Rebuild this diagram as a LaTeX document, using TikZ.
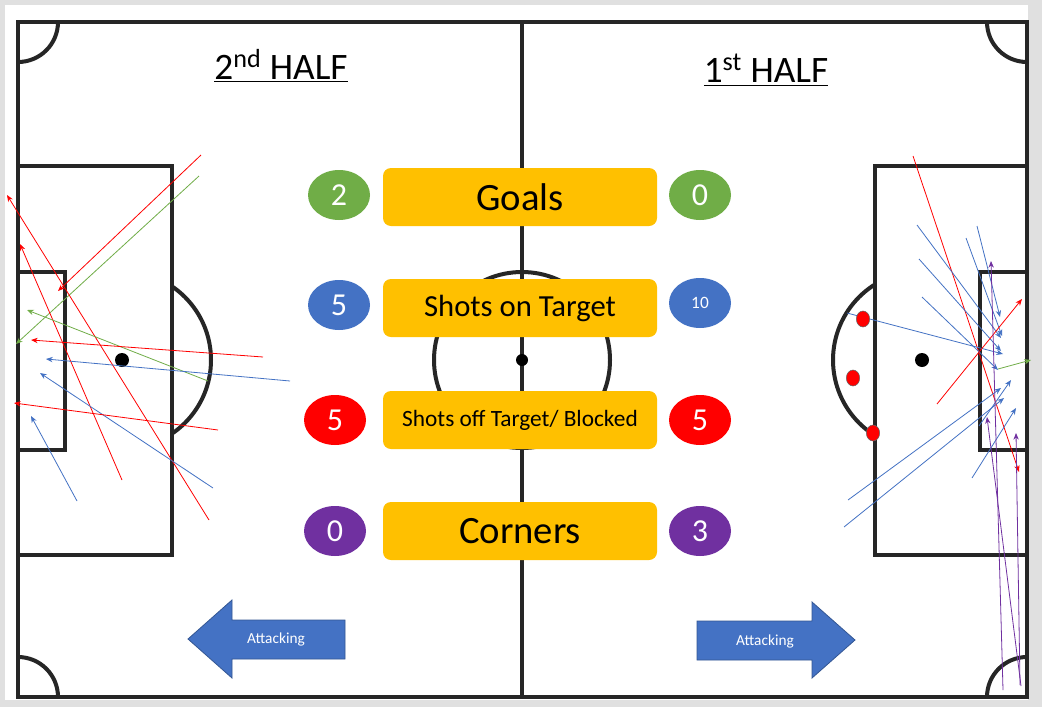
\documentclass[tikz,border=0pt]{standalone}
\usepackage{fontspec}
\setmainfont{Carlito}
\usetikzlibrary{shapes.geometric,arrows.meta}
\definecolor{gor}{HTML}{FFC000}
\definecolor{ggreen}{HTML}{70AD47}
\definecolor{gblue}{HTML}{4472C4}
\definecolor{gred}{HTML}{FF0000}
\definecolor{gpurp}{HTML}{7030A0}
\begin{document}
\begin{tikzpicture}[x=0.75pt,y=-0.75pt,
  pline/.style={line width=3pt,black!85},
  statbox/.style={fill=gor,rounded corners=6pt,minimum width=205.5pt,minimum height=43.5pt,inner sep=0pt},
  statcirc/.style={ellipse,minimum width=46.5pt,minimum height=37.5pt,inner sep=0pt,text=white,font=\fontsize{24}{24}\selectfont},
  shot/.style={line width=0.6pt,-{Stealth[length=5pt,width=4pt]}},
  attshape/.style={fill=gblue,draw=gblue!75!black,line width=0.6pt},
  attlabel/.style={text=white,font=\fontsize{11.5}{11.5}\selectfont},
  dot/.style={ellipse,fill=gred,draw=black!60,minimum width=10pt,minimum height=12pt,inner sep=0pt}]
\useasboundingbox (0,0) rectangle (1042,707);
\fill[black!12] (0,0) rectangle (1042,707);
\fill[white] (5,5) rectangle (1028,700);
% pitch
\draw[pline] (18,22) rectangle (1027,697);
\draw[pline] (522,22) -- (522,697);
\draw[pline] (522,360) circle (88);
\fill (522,360) circle (6);
\draw[pline] (18,166) rectangle (172,555);
\draw[pline] (18,272) rectangle (65,450);
\fill (122,360) circle (7);
\begin{scope}
\clip (172,200) rectangle (260,520);
\draw[pline] (122,360) circle (89);
\end{scope}
\draw[pline] (1027,166) -- (875,166) -- (875,555) -- (1027,555);
\draw[pline] (1027,272) -- (980,272) -- (980,450) -- (1027,450);
\fill (922,360) circle (7);
\begin{scope}
\clip (875,200) rectangle (780,520);
\draw[pline] (922,360) circle (89);
\end{scope}
\begin{scope}
\clip (18,22) rectangle (1027,697);
\draw[pline] (18,22) circle (40);
\draw[pline] (1027,22) circle (40);
\draw[pline] (18,697) circle (40);
\draw[pline] (1027,697) circle (40);
\end{scope}
% titles
\node (t2) at (281,66) {\fontsize{28}{28}\selectfont\underline{2\textsuperscript{nd} HALF}};
\node (t1) at (766,70) {\fontsize{28}{28}\selectfont\underline{1\textsuperscript{st} HALF}};
% stats
\node[statbox] (b1) at (520,197) {\fontsize{29}{29}\selectfont Goals};
\node[statbox] (b2) at (520,308) {\fontsize{23}{23}\selectfont Shots on Target};
\node[statbox] (b3) at (520,420) {\fontsize{17.5}{17.5}\selectfont Shots off Target/ Blocked};
\node[statbox] (b4) at (520,531) {\fontsize{29}{29}\selectfont Corners};
\node[statcirc,fill=ggreen] (l1) at (339,195) {2};
\node[statcirc,fill=ggreen] (r1) at (700,195) {0};
\node[statcirc,fill=gblue] (l2) at (339,305) {5};
\node[statcirc,fill=gblue,font=\fontsize{13}{13}\selectfont] (r2) at (700,303) {10};
\node[statcirc,fill=gred] (l3) at (335,420) {5};
\node[statcirc,fill=gred] (r3) at (700,420) {5};
\node[statcirc,fill=gpurp] (l4) at (335,531) {0};
\node[statcirc,fill=gpurp] (r4) at (700,531) {3};
% attacking arrows
\draw[attshape] (345,620) -- (232,620) -- (232,600) -- (188,639) -- (232,678) -- (232,659) -- (345,659) -- cycle;
\node[attlabel] (al) at (276,639) {Attacking};
\draw[attshape] (697,621) -- (812,621) -- (812,602) -- (855,640) -- (812,678) -- (812,660) -- (697,660) -- cycle;
\node[attlabel] (ar) at (765,641) {Attacking};
% left shots
\coordinate (a1) at (201,155); \coordinate (a2) at (58,291);
\coordinate (b1s) at (199,176); \coordinate (b2s) at (16,344);
\coordinate (c1) at (209,520); \coordinate (c2) at (7,195);
\coordinate (d1) at (122,480); \coordinate (d2) at (20,244);
\coordinate (e1) at (208,381); \coordinate (e2) at (27,310);
\coordinate (f1) at (263,357); \coordinate (f2) at (31,340);
\coordinate (g1) at (290,381); \coordinate (g2) at (46,359);
\coordinate (h1) at (213,488); \coordinate (h2) at (40,373);
\coordinate (i1) at (218,430); \coordinate (i2) at (14,403);
\coordinate (j1) at (77,501); \coordinate (j2) at (31,416);
\draw[shot,gred] (a1) -- (a2);
\draw[shot,ggreen] (b1s) -- (b2s);
\draw[shot,gred] (c1) -- (c2);
\draw[shot,gred] (d1) -- (d2);
\draw[shot,ggreen] (e1) -- (e2);
\draw[shot,gred] (f1) -- (f2);
\draw[shot,gblue] (g1) -- (g2);
\draw[shot,gblue] (h1) -- (h2);
\draw[shot,gred] (i1) -- (i2);
\draw[shot,gblue] (j1) -- (j2);
% right shots
\coordinate (k1) at (913,156); \coordinate (k2) at (1019,472);
\coordinate (m1) at (917,225); \coordinate (m2) at (1001,338);
\coordinate (n1) at (919,259); \coordinate (n2) at (1001,351);
\coordinate (o1) at (922,297); \coordinate (o2) at (998,370);
\coordinate (p1) at (977,226); \coordinate (p2) at (1000,317);
\coordinate (q1) at (966,238); \coordinate (q2) at (1002,336);
\coordinate (s1) at (847,313); \coordinate (s2) at (1003,354);
\coordinate (u1) at (937,404); \coordinate (u2) at (1022,299);
\coordinate (v1) at (998,369); \coordinate (v2) at (1031,360);
\coordinate (w1) at (848,500); \coordinate (w2) at (1001,388);
\coordinate (x1) at (844,527); \coordinate (x2) at (1004,398);
\coordinate (y1) at (979,426); \coordinate (y2) at (1011,380);
\coordinate (z1) at (972,478); \coordinate (z2) at (1016,408);
\coordinate (pa1) at (1003,690); \coordinate (pa2) at (991,261);
\coordinate (pb1) at (1021,686); \coordinate (pb2) at (987,417);
\coordinate (pc1) at (1020,685); \coordinate (pc2) at (1016,433);
\draw[shot,gred] (k1) -- (k2);
\foreach \s/\e in {m1/m2,n1/n2,o1/o2,p1/p2,q1/q2,s1/s2,w1/w2,x1/x2,y1/y2,z1/z2}
  \draw[shot,gblue] (\s) -- (\e);
\draw[shot,gred] (u1) -- (u2);
\draw[shot,ggreen] (v1) -- (v2);
\foreach \s/\e in {pa1/pa2,pb1/pb2,pc1/pc2}
  \draw[shot,gpurp] (\s) -- (\e);
\node[dot] (d1r) at (863,319) {};
\node[dot] (d2r) at (853,378) {};
\node[dot] (d3r) at (873,433) {};
\end{tikzpicture}
\end{document}
